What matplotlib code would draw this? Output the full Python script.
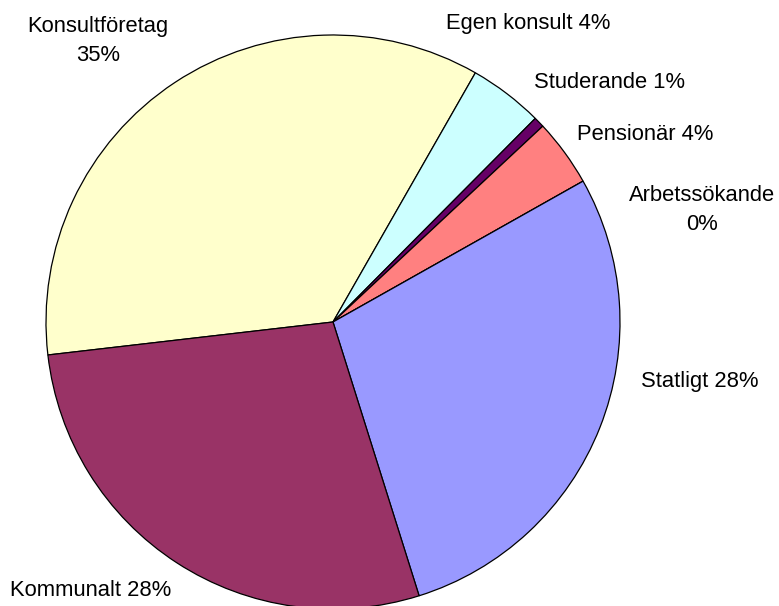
import matplotlib.pyplot as plt

plt.rcParams['font.family'] = ['Liberation Sans', 'DejaVu Sans']

categories = ["Konsultföretag", "Egen konsult", "Studerande", "Pensionär",
              "Arbetssökande", "Statligt", "Kommunalt"]
shares = [35.2, 4.2, 0.6, 3.8, 0.0, 28.4, 28.1]
pct_labels = ["35%", "4%", "1%", "4%", "0%", "28%", "28%"]
colors = ["#FFFFCC", "#CCFFFF", "#660066", "#FF8080", "#000080", "#9999FF", "#993366"]

fig = plt.figure(figsize=(7.79, 6.06), dpi=100)
ax = fig.add_axes([0, 0, 1, 1])

ax.pie(shares, colors=colors, startangle=186.6, counterclock=False,
       center=(333, 606 - 322), radius=287, frame=True,
       wedgeprops=dict(edgecolor='black', linewidth=0.9))
ax.set_xlim(0, 779)
ax.set_ylim(0, 606)
ax.set_aspect('equal')
ax.axis('off')

# label positions (pixel coords from top-left), two-line where wrapped
label_pos = {
    "Konsultföretag": (98, 41, True),
    "Egen konsult": (528, 23, False),
    "Studerande": (610, 82, False),
    "Pensionär": (645, 135, False),
    "Arbetssökande": (702, 210, True),
    "Statligt": (700, 382, False),
    "Kommunalt": (91, 590, False),
}
for cat, pct in zip(categories, pct_labels):
    x, y, wrap = label_pos[cat]
    txt = f"{cat}\n{pct}" if wrap else f"{cat} {pct}"
    ax.text(x, 606 - y, txt, ha='center', va='center', fontsize=15.8,
            linespacing=1.45)

fig.savefig("out.png", dpi=100)
